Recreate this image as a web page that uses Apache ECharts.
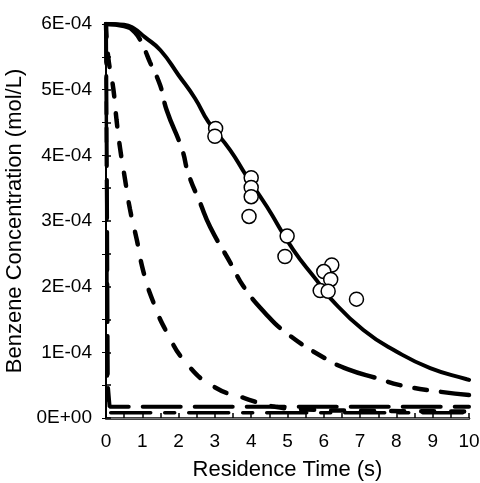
<!DOCTYPE html>
<html>
<head>
<meta charset="utf-8">
<title>Benzene Concentration</title>
<script src="https://cdn.jsdelivr.net/npm/echarts@6/dist/echarts.min.js"></script>
<style>
    html, body { margin: 0; padding: 0; background: #fff; }
    #chart { width: 480px; height: 483px; }
</style>
</head>
<body>
<div id="chart"></div>
<script>
// 浓度单位：1E-04 mol/L
const yTickLabels = ['0E+00', '1E-04', '2E-04', '3E-04', '4E-04', '5E-04', '6E-04'];
const xTickLabels = ['0', '1', '2', '3', '4', '5', '6', '7', '8', '9', '10'];

// 实验点 [时间 s, 浓度]
const measured = [
    [3.02, 4.41], [3.0, 4.29], [4.0, 3.66], [4.0, 3.51], [4.0, 3.37], [3.94, 3.07],
    [4.99, 2.77], [4.93, 2.46], [6.22, 2.33], [6.0, 2.23], [6.19, 2.11], [5.9, 1.94],
    [6.12, 1.93], [6.9, 1.81]
];

// 实线模型
const solidCurve = [
    [0, 6.0], [0.5, 5.99], [0.75, 5.94], [1.07, 5.8], [1.5, 5.6], [2.0, 5.22],
    [2.45, 4.87], [2.82, 4.51], [3.42, 4.08], [3.83, 3.72], [4.43, 3.22], [5.16, 2.56],
    [5.8, 2.1], [6.17, 1.83], [7.09, 1.34], [8.01, 1.01], [8.93, 0.76], [9.94, 0.59], [10, 0.58]
];

// 长虚线
const longDashCurve = [
    [0, 6.0], [0.5, 5.97], [0.8, 5.87], [1.03, 5.65], [1.21, 5.42], [1.49, 5.07],
    [1.67, 4.69], [2.09, 4.1], [2.27, 3.72], [2.59, 3.28], [2.87, 2.91], [3.46, 2.33],
    [3.78, 2.01], [4.38, 1.6], [4.98, 1.29], [6.03, 0.91], [6.67, 0.74], [7.5, 0.6],
    [8.1, 0.5], [9.2, 0.4], [10, 0.35]
];

// 短虚线
const shortDashCurve = [
    [0, 6.0], [0.06, 5.5], [0.2, 5.02], [0.29, 4.54], [0.39, 4.1], [0.52, 3.65],
    [0.66, 3.18], [0.85, 2.71], [1.03, 2.23], [1.3, 1.77], [1.67, 1.31], [2.22, 0.83],
    [2.96, 0.48], [3.83, 0.3], [4.66, 0.17], [5.5, 0.13], [7, 0.11], [10, 0.1]
];

// 贴着纵轴的两条快速下降曲线
const fastCurveA = [[0, 6.0], [0.03, 3.0], [0.05, 0.5], [0.1, 0.17], [10, 0.17]];
const fastCurveB = [[0, 6.0], [0.02, 3.0], [0.04, 0.3], [0.1, 0.08], [10, 0.08]];

const textFont = 'Liberation Sans';

function lineSeries(data, width, dash, smooth) {
    return {
        type: 'line',
        data: data,
        smooth: smooth,
        showSymbol: false,
        symbol: 'none',
        silent: true,
        lineStyle: { color: '#000', width: width, type: dash, cap: 'round', opacity: 1 },
        z: 2
    };
}

const chart = echarts.init(document.querySelector('#chart'));

chart.setOption({
    animation: false,
    backgroundColor: '#fff',
    grid: { left: 106, right: 11, top: 24, bottom: 65, outerBoundsMode: 'none' },
    xAxis: [{
        type: 'value',
        min: 0,
        max: 10,
        interval: 1,
        name: 'Residence Time (s)',
        nameLocation: 'middle',
        nameGap: 41,
        nameTextStyle: { fontFamily: textFont, fontSize: 22, color: '#000' },
        axisLine: { lineStyle: { color: '#000', width: 2.5 } },
        axisTick: { inside: true, length: 5, lineStyle: { color: '#000', width: 1.5 } },
        minorTick: { show: true, splitNumber: 2, length: 5, lineStyle: { color: '#000', width: 1.5 } },
        axisLabel: {
            margin: 14,
            fontFamily: textFont,
            fontSize: 19,
            color: '#000',
            formatter: function (v) { return xTickLabels[Math.round(v)]; }
        },
        splitLine: { show: false }
    }, {
        type: 'value',
        position: 'top',
        min: 0,
        max: 10,
        axisLine: { lineStyle: { color: '#777', width: 1 } },
        axisTick: { show: false },
        axisLabel: { show: false },
        splitLine: { show: false }
    }],
    yAxis: [{
        type: 'value',
        min: 0,
        max: 6,
        interval: 1,
        name: 'Benzene Concentration (mol/L)',
        nameLocation: 'middle',
        nameGap: 70,
        nameTextStyle: { fontFamily: textFont, fontSize: 22, color: '#000' },
        axisLine: { show: true, lineStyle: { color: '#000', width: 2 } },
        axisTick: { inside: true, length: 5, lineStyle: { color: '#000', width: 1.5 } },
        minorTick: { show: true, splitNumber: 2, length: 5, lineStyle: { color: '#000', width: 1.5 } },
        axisLabel: {
            margin: 14,
            fontFamily: textFont,
            fontSize: 19,
            color: '#000',
            formatter: function (v) { return yTickLabels[Math.round(v)]; }
        },
        splitLine: { show: false }
    }, {
        type: 'value',
        position: 'right',
        min: 0,
        max: 6,
        interval: 1,
        axisLine: { show: true, lineStyle: { color: '#000', width: 2 } },
        axisTick: { inside: true, length: 4, lineStyle: { color: '#000', width: 1 } },
        minorTick: { show: true, splitNumber: 2, length: 4, lineStyle: { color: '#000', width: 1 } },
        axisLabel: { show: false },
        splitLine: { show: false }
    }],
    series: [
        lineSeries(fastCurveA, 4, [38, 14], false),
        lineSeries(fastCurveB, 3.5, [40, 14, 10, 14], false),
        lineSeries(shortDashCurve, 4.5, [13, 17], true),
        lineSeries(longDashCurve, 4.5, [40, 14, 13, 14, 13, 14], true),
        lineSeries(solidCurve, 4, 'solid', true),
        {
            type: 'scatter',
            data: measured,
            symbol: 'circle',
            symbolSize: 14,
            silent: true,
            itemStyle: { color: '#fff', borderColor: '#000', borderWidth: 1.5, opacity: 1 },
            z: 5
        }
    ]
});
</script>
</body>
</html>
